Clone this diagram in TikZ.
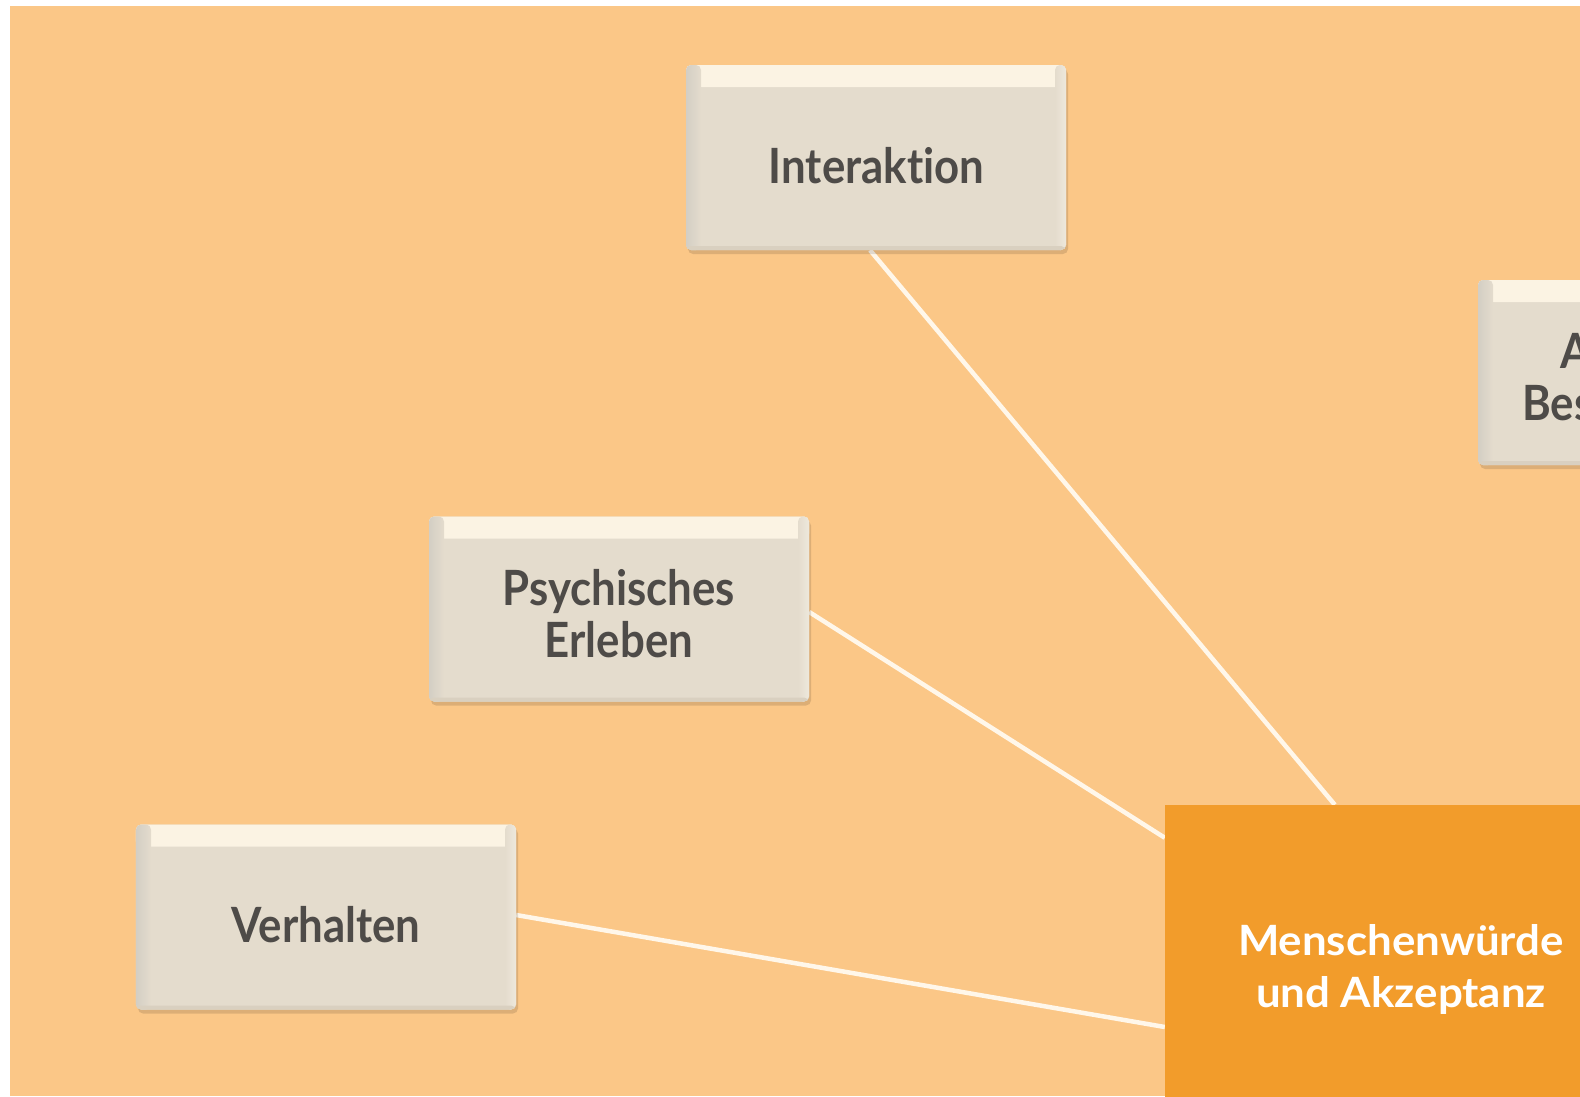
\documentclass[tikz,border=0pt]{standalone}
\usepackage{fontspec}
\setmainfont{Lato}
\newfontfamily\grayfont[FakeStretch=0.9,Ligatures={NoCommon,NoContextual}]{Lato}
\newfontfamily\whitefont[FakeStretch=1.05,Ligatures={NoCommon,NoContextual}]{Lato}
\usetikzlibrary{shadows}
\definecolor{bgorange}{HTML}{FBC787}
\definecolor{boxface}{HTML}{E4DCCD}
\definecolor{boxtop}{HTML}{FBF3E3}
\definecolor{boxleft}{HTML}{D3CEC4}
\definecolor{boxright}{HTML}{EEE8DC}
\definecolor{boxbottom}{HTML}{D9D0C0}
\definecolor{textgray}{HTML}{4E4B48}
\definecolor{mworange}{HTML}{F29C2B}
\definecolor{connwhite}{HTML}{FFF7EA}
\pgfdeclarelayer{bg}
\pgfsetlayers{bg,main}
\tikzset{
  bevelbox/.style={rounded corners=5bp, fill=boxface, minimum width=380bp, minimum height=185bp,
    inner sep=0pt,
    drop shadow={shadow xshift=2bp, shadow yshift=-4bp, opacity=0.12, fill=black},
    path picture={
      \fill[boxtop] (path picture bounding box.north west) rectangle ([yshift=-22bp]path picture bounding box.north east);
      \shade[left color=boxleft, right color=boxface] (path picture bounding box.north west) rectangle ([xshift=15bp]path picture bounding box.south west);
      \shade[left color=boxface, right color=boxright] ([xshift=-11bp]path picture bounding box.north east) rectangle (path picture bounding box.south east);
      \fill[boxbottom] ([yshift=4bp]path picture bounding box.south west) rectangle (path picture bounding box.south east);
    }},
  graytext/.style={inner sep=0pt, text=textgray, align=center,
    font=\grayfont\bfseries\fontsize{48.8}{52}\selectfont},
  mwbox/.style={fill=mworange, minimum width=456bp, minimum height=320bp, inner sep=0pt},
  whitetext/.style={inner sep=0pt, text=white, align=center,
    font=\whitefont\bfseries\fontsize{41.9}{52}\selectfont},
  conn/.style={draw=connwhite, line width=4.5bp}
}
\begin{document}
\begin{tikzpicture}[x=1bp,y=-1bp]
\useasboundingbox (0,0) rectangle (1580,1096);
\clip (0,0) rectangle (1580,1096);
\begin{pgfonlayer}{bg}
\fill[white] (0,0) rectangle (1580,1096);
\fill[bgorange] (10,6) rectangle (1580,1096);
\end{pgfonlayer}

% boxes
\node[bevelbox] (inter) at (876,157.5) {};
\node[bevelbox] (psy) at (619,609) {};
\node[bevelbox] (verh) at (326,917) {};
\node[bevelbox] (rb) at (1668,372.5) {};
\node[mwbox] (mw) at (1393,965) {};

% texts
\node[graytext, anchor=base] (inter-t) at (876.5,183) {Interaktion};
\node[graytext, anchor=base] (psy-t1) at (619,605) {Psychisches};
\node[graytext, anchor=base] (psy-t2) at (619,657) {Erleben};
\node[graytext, anchor=base] (verh-t) at (326,942) {Verhalten};
\node[graytext, anchor=base west] (rb-t1) at (1560,368) {A};
\node[graytext, anchor=base west] (rb-t2) at (1522,420) {Bes};
\node[whitetext, anchor=base] (mw-t1) at (1401,955) {Menschenwürde};
\node[whitetext, anchor=base] (mw-t2) at (1401,1007) {und Akzeptanz};

% connectors
\begin{pgfonlayer}{bg}
\draw[conn] ([xshift=-6bp]inter.south) -- ([xshift=170bp]mw.north west);
\draw[conn] ([yshift=-3bp]psy.east) -- ([yshift=-33bp]mw.north west);
\draw[conn] ([yshift=2bp]verh.east) -- ([yshift=-62bp]mw.west);
\end{pgfonlayer}
\end{tikzpicture}
\end{document}
